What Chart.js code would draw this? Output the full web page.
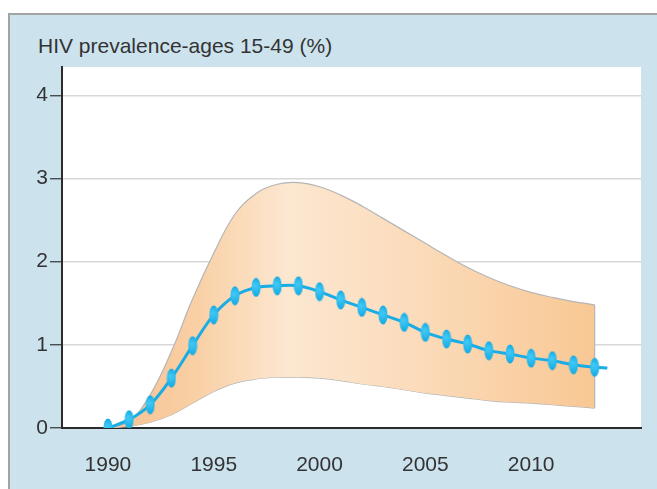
<!DOCTYPE html>
<html>
<head>
<meta charset="utf-8">
<script src="https://cdn.jsdelivr.net/npm/chart.js@4.4.1/dist/chart.umd.min.js"></script>
<style>
  html, body { margin:0; padding:0; background:#ffffff; }
  body { width:657px; height:489px; position:relative; overflow:hidden; font-family:"Liberation Sans", Arial, sans-serif; }
  #frame { position:absolute; left:8px; top:13px; width:660px; height:490px; background:#cce3ee; border-top:2px solid #a3a3a3; border-left:2px solid #a3a3a3; }
  #title { position:absolute; left:38px; top:35px; font-size:21px; line-height:21px; color:#333333; white-space:nowrap; }
  #c { position:absolute; left:0; top:0; }
</style>
</head>
<body>
<div id="frame"></div>
<div id="title">HIV prevalence-ages 15-49 (%)</div>
<canvas id="c" width="657" height="489"></canvas>
<script>
// ---- data ----
const years      = [1990,1991,1992,1993,1994,1995,1996,1997,1998,1999,2000,2001,2002,2003,2004,2005,2006,2007,2008,2009,2010,2011,2012,2013];
const prevalence = [0.00,0.10,0.28,0.60,0.99,1.36,1.59,1.69,1.71,1.71,1.64,1.54,1.45,1.36,1.27,1.15,1.07,1.01,0.93,0.89,0.84,0.81,0.76,0.73];
const upperBound = [0.00,0.08,0.40,0.92,1.55,2.10,2.57,2.82,2.93,2.95,2.90,2.80,2.67,2.52,2.37,2.22,2.07,1.93,1.81,1.71,1.63,1.57,1.52,1.48];
const lowerBound = [0.00,0.02,0.07,0.16,0.30,0.44,0.54,0.59,0.61,0.61,0.60,0.57,0.53,0.50,0.46,0.42,0.39,0.36,0.33,0.31,0.30,0.28,0.26,0.24];
const tailYear   = [2013.6];
const tailValue  = [0.72];
const xTickYears = [1990,1995,2000,2005,2010];
const yTickVals  = [0,1,2,3,4];

// ---- helpers ----
const pts = (xs, ys) => xs.map((x, i) => ({x: x, y: ys[i]}));
const lineData = pts(years, prevalence).concat(pts(tailYear, tailValue));
const markerRadius = lineData.map((p, i) => i < years.length ? 5 : 0);

const marker = document.createElement('canvas');
marker.width = 10; marker.height = 20;
(function(){
  const m = marker.getContext('2d');
  const g = m.createRadialGradient(4, 8, 1, 5, 10, 9);
  g.addColorStop(0, '#40c8f5');
  g.addColorStop(1, '#15aae3');
  m.fillStyle = g;
  m.beginPath();
  m.ellipse(5, 10, 4.5, 9.5, 0, 0, Math.PI * 2);
  m.fill();
})();

function bandGradient(ctx) {
  const chart = ctx.chart;
  const area = chart.chartArea;
  if (!area) return '#f9d3a8';
  const xs = chart.scales.x;
  const g = chart.ctx.createLinearGradient(xs.getPixelForValue(1991), 0, xs.getPixelForValue(2013), 0);
  g.addColorStop(0.00, '#f7c596');
  g.addColorStop(0.14, '#f9cfa4');
  g.addColorStop(0.34, '#fce7d0');
  g.addColorStop(0.60, '#fbdcbc');
  g.addColorStop(1.00, '#f8c894');
  return g;
}

const whiteArea = {
  id: 'whiteArea',
  beforeDraw(chart) {
    const a = chart.chartArea, c = chart.ctx;
    c.save();
    c.fillStyle = '#ffffff';
    c.fillRect(a.left, a.top, a.right - a.left, a.bottom - a.top);
    c.restore();
  }
};

new Chart(document.getElementById('c'), {
  type: 'line',
  data: {
    datasets: [
      {
        label: 'line',
        data: lineData,
        borderColor: '#1aace4',
        borderWidth: 3,
        pointStyle: marker,
        pointRadius: markerRadius,
        pointHoverRadius: markerRadius,
        tension: 0.35,
        fill: false,
        order: 0
      },
      {
        label: 'upper',
        data: pts(years, upperBound),
        borderColor: '#b5b5b5',
        borderWidth: 1.2,
        pointRadius: 0,
        tension: 0.4,
        backgroundColor: bandGradient,
        fill: '+1',
        order: 2
      },
      {
        label: 'lower',
        data: pts(years, lowerBound),
        borderColor: '#b5b5b5',
        borderWidth: 1.2,
        pointRadius: 0,
        tension: 0.4,
        fill: false,
        order: 2
      },
      {
        label: 'edge',
        data: [{x: years[years.length-1], y: lowerBound[lowerBound.length-1]}, {x: years[years.length-1], y: upperBound[upperBound.length-1]}],
        borderColor: '#b5b5b5',
        borderWidth: 1.2,
        pointRadius: 0,
        fill: false,
        order: 1
      }
    ]
  },
  options: {
    responsive: false,
    devicePixelRatio: 1,
    animation: false,
    layout: { padding: { left: 0, right: 16, top: 67, bottom: 0 } },
    plugins: { legend: { display: false }, tooltip: { enabled: false }, title: { display: false } },
    scales: {
      x: {
        type: 'linear',
        min: 1987.83,
        max: 2015.19,
        afterFit(s) { s.height = 61; },
        afterBuildTicks(s) { s.ticks = xTickYears.map(v => ({value: v})); },
        grid: { display: false, drawTicks: false },
        border: { display: true, color: '#2b2b2b', width: 2 },
        ticks: {
          padding: 25,
          color: '#333333',
          font: { family: '"Liberation Sans", Arial, sans-serif', size: 21 },
          maxRotation: 0,
          callback: v => String(v)
        }
      },
      y: {
        type: 'linear',
        min: 0,
        max: 4.34,
        afterFit(s) { s.width = 62; },
        afterBuildTicks(s) { s.ticks = yTickVals.map(v => ({value: v})); },
        grid: { color: '#d7d7d7', lineWidth: 1.5, drawTicks: true, tickLength: 12, tickColor: '#333333', tickWidth: 1.2 },
        border: { display: true, color: '#2b2b2b', width: 2 },
        ticks: {
          padding: 2,
          color: '#333333',
          font: { family: '"Liberation Sans", Arial, sans-serif', size: 21 },
          callback: v => String(v)
        }
      }
    }
  },
  plugins: [whiteArea]
});
</script>
</body>
</html>
